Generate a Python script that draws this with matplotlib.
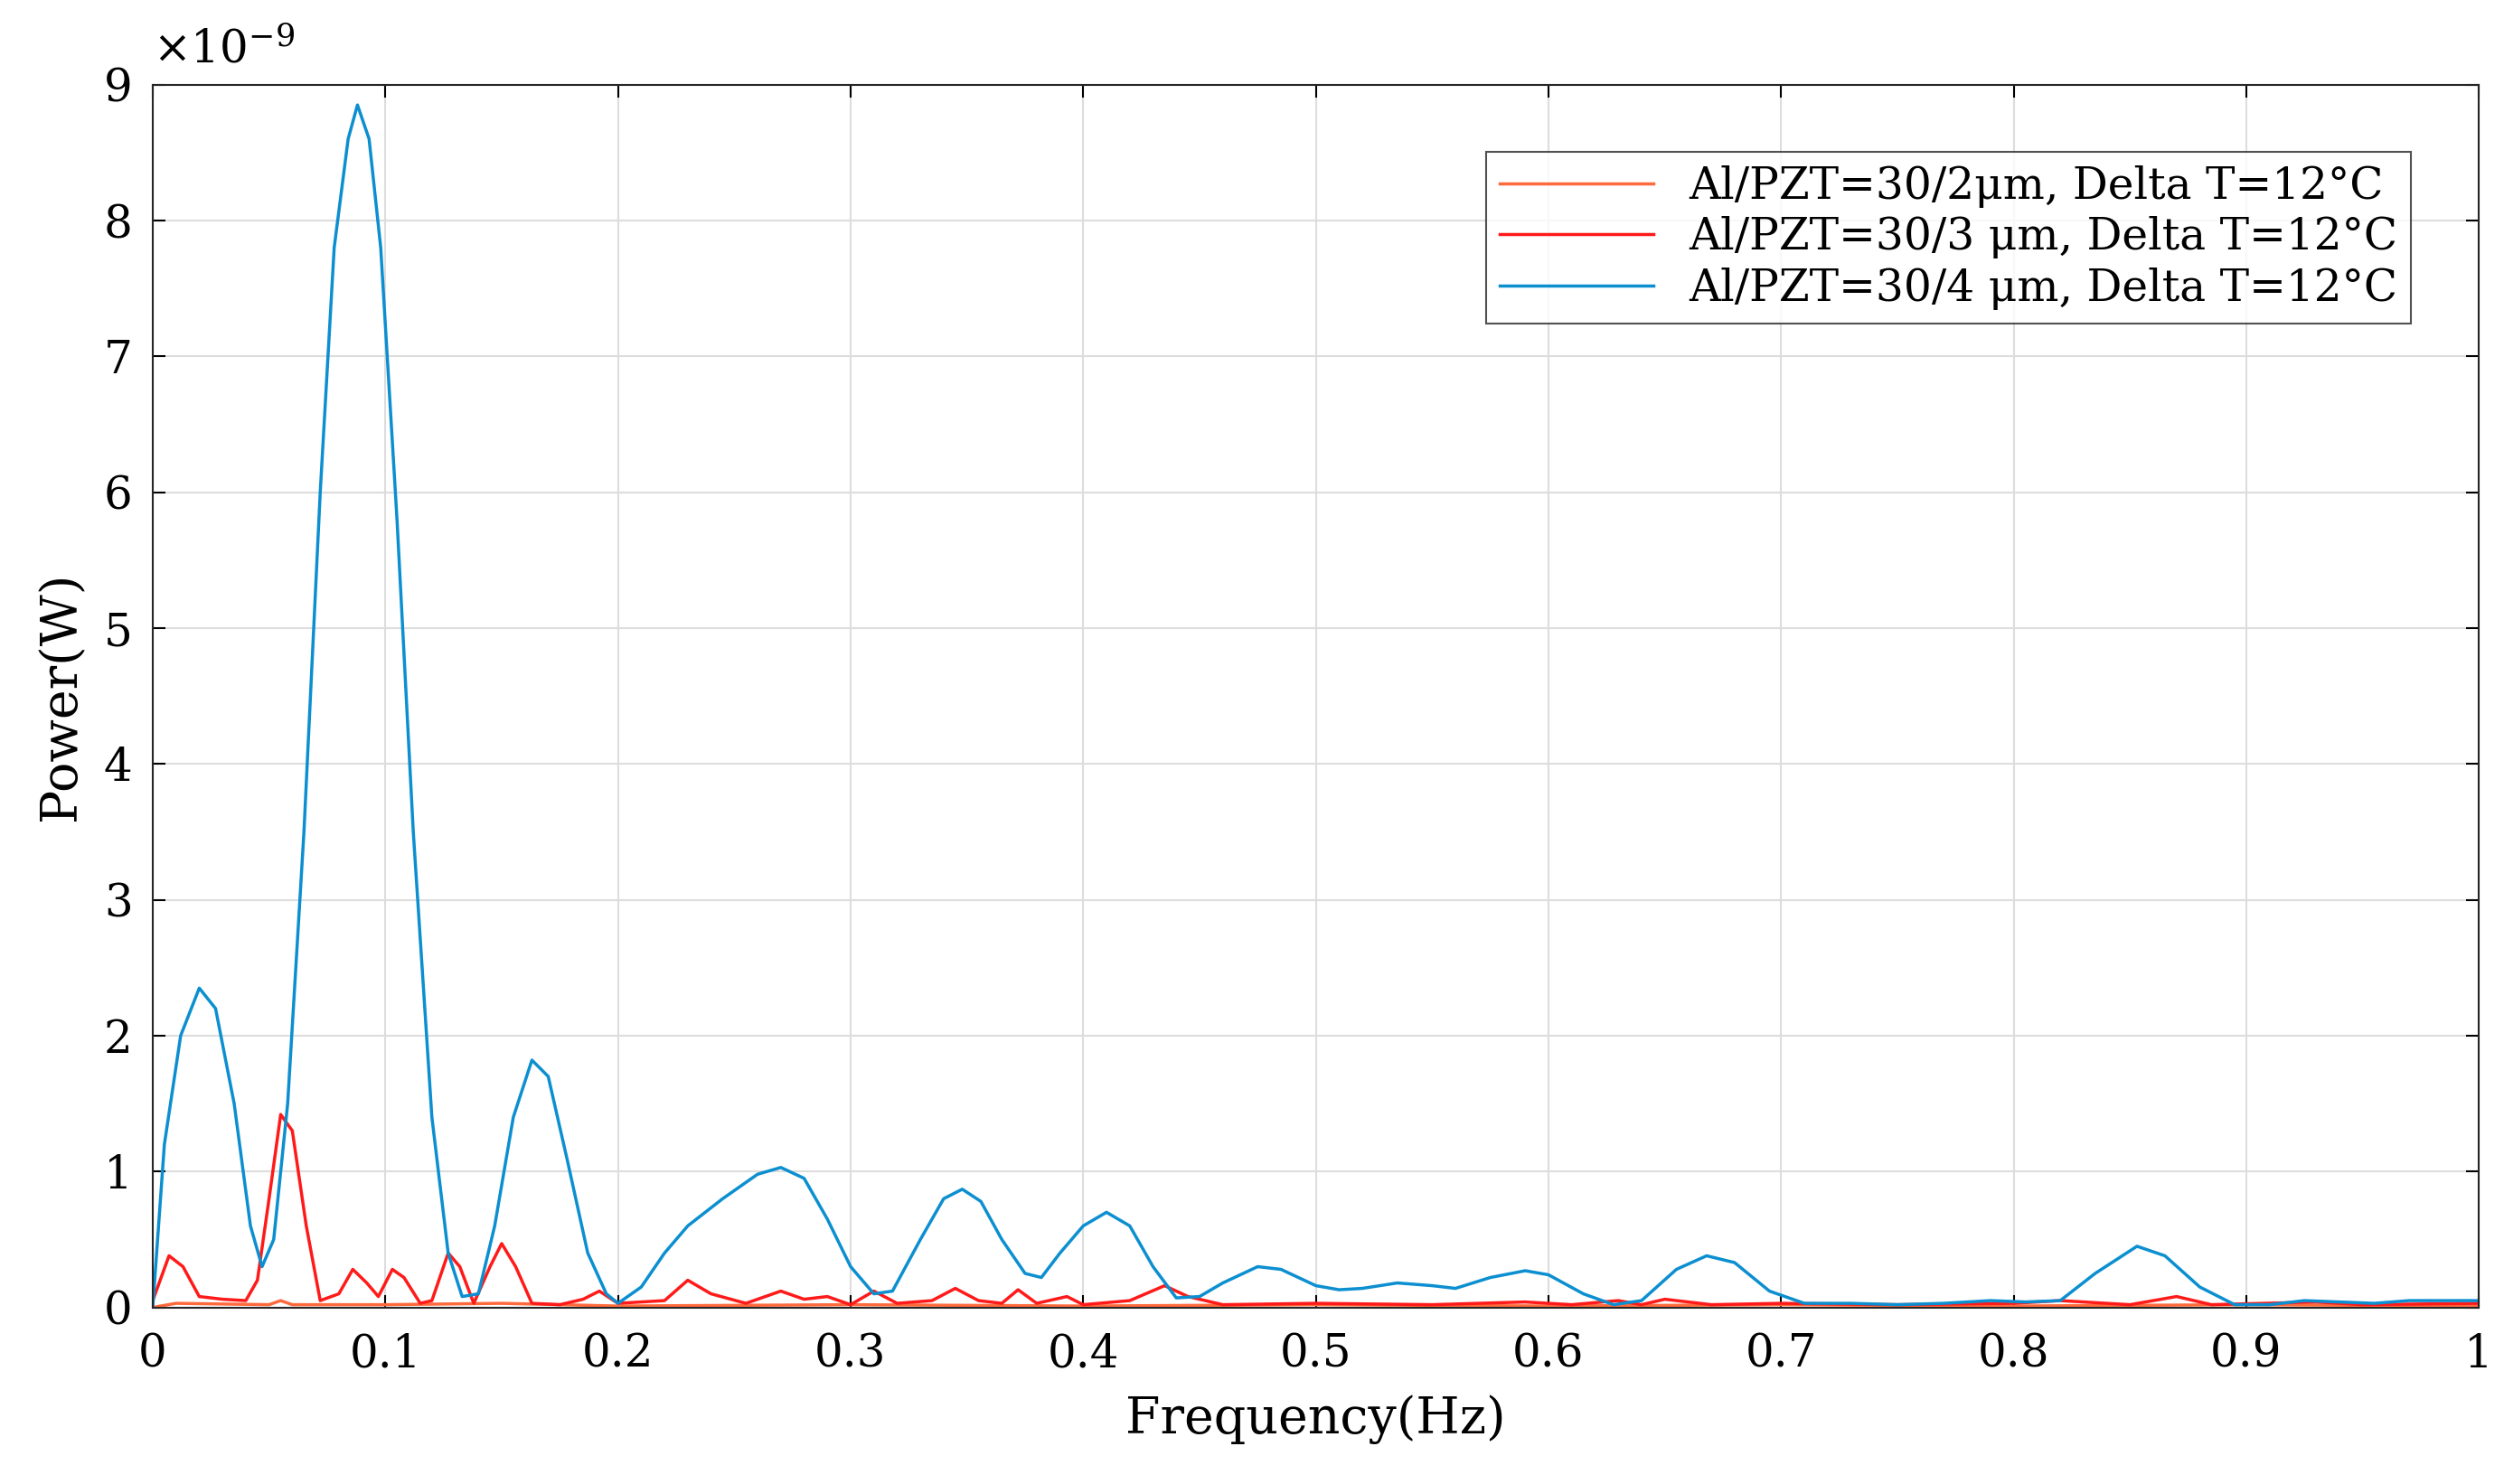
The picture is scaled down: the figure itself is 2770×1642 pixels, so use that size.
import matplotlib
matplotlib.use("Agg")
import matplotlib.pyplot as plt
import numpy as np

plt.rcParams['font.family'] = ['DejaVu Serif']
plt.rcParams['mathtext.fontset'] = 'dejavuserif'

blue_x = [0,0.005,0.012,0.02,0.027,0.035,0.042,0.047,0.052,0.058,0.065,0.072,0.078,0.084,0.088,0.093,0.098,0.105,0.112,0.12,0.127,0.133,0.14,0.147,0.155,0.163,0.17,0.178,0.187,0.195,0.2,0.21,0.22,0.23,0.245,0.26,0.27,0.28,0.29,0.3,0.31,0.318,0.33,0.34,0.348,0.356,0.365,0.375,0.382,0.39,0.4,0.41,0.42,0.43,0.44,0.45,0.46,0.475,0.485,0.5,0.51,0.52,0.535,0.55,0.56,0.575,0.59,0.6,0.615,0.628,0.64,0.655,0.668,0.68,0.695,0.71,0.73,0.75,0.77,0.79,0.805,0.82,0.835,0.853,0.865,0.88,0.895,0.91,0.925,0.94,0.955,0.97,1.0]
blue_y = [0,1.2,2.0,2.35,2.2,1.5,0.6,0.3,0.5,1.5,3.5,6.0,7.8,8.6,8.85,8.6,7.8,5.8,3.5,1.4,0.4,0.08,0.1,0.6,1.4,1.82,1.7,1.1,0.4,0.1,0.03,0.15,0.4,0.6,0.8,0.98,1.03,0.95,0.65,0.3,0.1,0.12,0.5,0.8,0.87,0.78,0.5,0.25,0.22,0.4,0.6,0.7,0.6,0.3,0.07,0.08,0.18,0.3,0.28,0.16,0.13,0.14,0.18,0.16,0.14,0.22,0.27,0.24,0.1,0.02,0.05,0.28,0.38,0.33,0.12,0.03,0.03,0.02,0.03,0.05,0.04,0.05,0.25,0.45,0.38,0.15,0.02,0.02,0.05,0.04,0.03,0.05,0.05]

red_x = [0,0.007,0.013,0.02,0.03,0.04,0.045,0.05,0.055,0.06,0.066,0.072,0.08,0.086,0.092,0.097,0.103,0.108,0.115,0.12,0.127,0.132,0.138,0.145,0.15,0.156,0.163,0.175,0.185,0.192,0.2,0.22,0.23,0.24,0.255,0.27,0.28,0.29,0.3,0.31,0.32,0.335,0.345,0.355,0.365,0.372,0.38,0.393,0.4,0.42,0.435,0.445,0.46,0.5,0.55,0.59,0.61,0.63,0.64,0.65,0.67,0.7,0.75,0.8,0.82,0.85,0.87,0.885,0.93,0.95,1.0]
red_y = [0.05,0.38,0.3,0.08,0.06,0.05,0.2,0.8,1.42,1.3,0.6,0.05,0.1,0.28,0.18,0.08,0.28,0.22,0.03,0.05,0.4,0.3,0.03,0.3,0.47,0.3,0.03,0.02,0.06,0.12,0.03,0.05,0.2,0.1,0.03,0.12,0.06,0.08,0.02,0.12,0.03,0.05,0.14,0.05,0.03,0.13,0.03,0.08,0.02,0.05,0.16,0.08,0.02,0.03,0.02,0.04,0.02,0.05,0.02,0.06,0.02,0.03,0.02,0.03,0.05,0.02,0.08,0.02,0.04,0.02,0.03]

orange_x = [0,0.01,0.05,0.055,0.06,0.1,0.15,0.2,0.3,0.4,0.5,0.6,0.7,0.8,0.9,1.0]
orange_y = [0,0.03,0.02,0.05,0.02,0.02,0.03,0.01,0.02,0.01,0.02,0.01,0.02,0.01,0.02,0.01]

labels = ["Al/PZT=30/2μm, Delta T=12°C", "Al/PZT=30/3 μm, Delta T=12°C", "Al/PZT=30/4 μm, Delta T=12°C"]

fig = plt.figure(figsize=(27.7, 16.42), dpi=100)
ax = fig.add_axes([0.061, 0.119, 0.929, 0.824])
ax.plot(orange_x, np.array(orange_y)*1e-9, color='#FF6A3D', lw=2.5, label=labels[0])
ax.plot(red_x, np.array(red_y)*1e-9, color='#FF1A1A', lw=2.5, label=labels[1])
ax.plot(blue_x, np.array(blue_y)*1e-9, color='#0C8FD0', lw=2.5, label=labels[2])
ax.set_xlim(0, 1)
ax.set_ylim(0, 9e-9)
ax.set_xticks(np.arange(0, 1.01, 0.1))
ax.set_xticklabels(['0','0.1','0.2','0.3','0.4','0.5','0.6','0.7','0.8','0.9','1'])
ax.set_yticks(np.arange(0, 10)*1e-9)
ax.set_yticklabels([str(i) for i in range(10)])
ax.grid(True, color='#DDDDDD', lw=1.5)
ax.tick_params(labelsize=36, direction='in', length=10, width=1.5, top=True, right=True)
ax.tick_params(axis='x', pad=20)
ax.tick_params(axis='y', pad=16)
for s in ax.spines.values():
    s.set_linewidth(1.5); s.set_color('#262626')
ax.set_xlabel('Frequency(Hz)', fontsize=40, labelpad=14)
ax.set_ylabel('Power(W)', fontsize=40, labelpad=14)
ax.text(0.0, 1.01, r'$\times10^{-9}$', transform=ax.transAxes, fontsize=36, va='bottom')
leg = ax.legend(loc='upper right', bbox_to_anchor=(0.98, 0.963), fontsize=35, frameon=True,
                fancybox=False, edgecolor='#262626', handlelength=3.5, borderpad=0.3,
                labelspacing=0.2)
leg.get_frame().set_linewidth(1.5)
fig.savefig('out.png', dpi=100, facecolor='white')
